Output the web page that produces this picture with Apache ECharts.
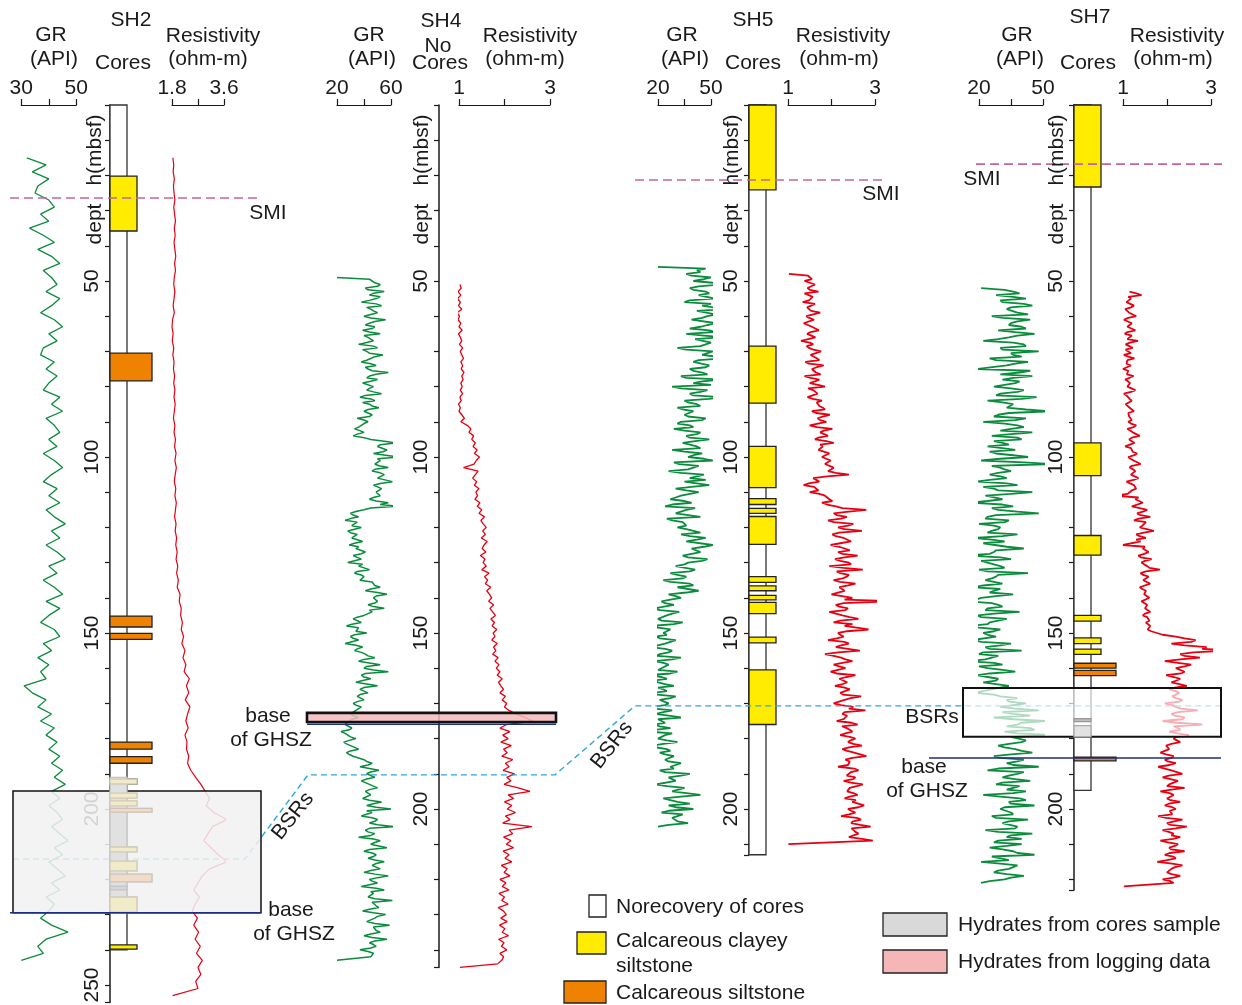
<!DOCTYPE html>
<html><head><meta charset="utf-8">
<script src="https://cdn.jsdelivr.net/npm/echarts@6/dist/echarts.min.js"></script>
<style>html,body{margin:0;padding:0;background:#fff}#c{width:1242px;height:1005px}</style>
</head><body><div id="c"></div><script>
// ================= DATA =================
// scale-bar tick labels (min, mid, max)
const sh2GrTicks = ['30','40','50'];
const sh2ResTicks = ['1.8','2.7','3.6'];
const sh4GrTicks = ['20','40','60'];
const sh4ResTicks = ['1','2','3'];
const sh5GrTicks = ['20','35','50'];
const sh5ResTicks = ['1','2','3'];
const sh7GrTicks = ['20','35','50'];
const sh7ResTicks = ['1','2','3'];

// logs: first sample depth (mbsf), sample step (m), values; "Half" arrays = readings midway between samples
const sh2GrStart = 15, sh2GrStep = 2;
const sh2Gr = [32,39,34,40,36,35,40,42,37,40,33,38,42,36,41,44,38,41,43,39,
 44,41,37,42,45,40,43,38,37,42,39,43,40,38,44,41,45,39,42,44,
 40,43,38,42,45,41,38,43,40,44,39,42,46,41,44,39,43,46,40,43,
 38,42,45,39,44,40,37,42,44,38,41,36,40,37,39,31,34,39,36,41,
 37,42,39,43,40,44,41,45,42,46,41,44,40,43,45,41,44,47,42,45,
 40,43,46,41,44,39,42,40,37,41,47,39,36,38,30];
const sh2ResStart = 15, sh2ResStep = 2;
const sh2Res = [1.83,1.86,1.84,1.88,1.85,1.87,1.90,1.86,1.89,1.92,1.88,1.91,1.87,1.90,1.93,1.89,1.92,1.88,1.86,1.90,
 1.87,1.84,1.88,1.82,1.80,1.84,1.81,1.86,1.83,1.87,1.85,1.89,1.86,1.90,1.87,1.91,1.88,1.85,1.90,1.87,
 1.92,1.89,1.94,1.90,1.95,1.91,1.88,1.93,1.90,1.95,1.92,1.89,1.94,1.91,1.96,1.93,1.98,1.94,2.00,1.96,
 2.02,1.98,2.08,2.05,2.12,2.10,2.16,2.12,2.20,2.14,2.25,2.18,2.28,2.22,2.40,2.30,2.38,2.26,2.42,2.34,
 2.28,2.36,2.25,2.32,2.30,2.38,2.34,2.45,2.62,2.80,2.95,3.10,2.98,3.25,3.70,3.20,3.05,2.90,3.15,3.40,
 3.70,3.10,2.85,2.70,2.55,2.75,2.60,2.50,2.68,2.55,2.72,2.60,2.78,2.65,2.85,2.70,2.80,2.62,2.70,1.82];

const sh4GrStart = 49, sh4GrStep = 1;
const sh4Gr = [20,
 46,52,41,55,44,49,38,53,45,50,40,56,44,
 48,39,52,43,47,36,50,42,54,45,38,49,43,
 58,44,50,39,47,42,53,37,48,44,51,40,46,35,43,
 38,33,40,32,45,
 64,50,57,47,65,52,48,58,46,55,50,61,47,53,49,
 52,44,58,65,40,
 30,36,26,33,38,28,35,31,39,29,
 34,41,32,38,28,36,44,33,40,37,
 45,52,41,57,47,50,43,55,46,40,
 32,38,27,35,42,30,36,26,39,33,
 41,48,36,52,40,58,38,45,34,50,37,43,
 35,40,32,38,34,30,36,29,
 26,31,23,28,34,25,30,36,27,32,
 40,46,37,51,42,48,38,44,50,41,
 45,39,53,42,60,46,38,50,44,63,41,48,36,52,45,57,40,49,43,55,
 46,52,40,58,44,50,38,55,47,43,61,45,51,39,56,48,42,59,46,52,40,57,44,49,37,47,
 45,20];
const sh4GrHalf = [44,48,50,43,47,52,44,49,42,47,51,45,48,
 41,46,44,40,45,42,47,39,44,48,42,45,41,
 46,49,42,45,40,44,47,41,45,39,46,43,41,44,40,
 40,36,37,35,40,
 55,52,49,54,56,50,53,51,48,52,55,50,52,48,51,
 50,47,49,52,45,
 34,32,30,35,31,33,30,34,32,33,
 36,34,38,35,33,39,37,35,38,41,
 46,48,45,50,49,46,48,47,44,43,
 35,33,31,36,34,33,32,31,34,35,
 38,43,40,44,42,47,41,40,39,42,40,38,
 37,36,35,34,36,33,32,31,
 28,27,29,26,30,29,27,31,30,29,
 36,42,43,44,45,43,42,41,45,44,
 43,46,44,47,49,42,45,46,48,50,44,43,45,47,48,46,44,46,47,48,
 49,47,45,48,50,46,44,49,45,47,48,46,49,44,47,50,45,48,47,49,45,46,48,47,45,43,46,
 44];
const sh4ResStart = 51, sh4ResStep = 1;
const sh4Res = [1.02,1.05,0.98,1.04,0.97,1.03,0.99,1.06,0.96,1.01,
 0.98,1.04,1.00,1.07,0.99,1.03,1.06,1.01,1.08,1.03,
 1.06,1.10,1.04,1.08,1.05,1.11,1.06,1.09,1.04,1.07,
 1.03,1.08,1.02,1.05,0.99,1.03,1.00,1.06,1.12,1.04,
 1.18,1.26,1.22,1.32,1.28,1.36,1.31,1.40,1.34,1.45,
 1.38,1.33,1.10,1.42,1.36,1.30,1.39,1.34,1.44,1.37,
 1.41,1.35,1.46,1.40,1.50,1.44,1.56,1.48,1.53,1.60,
 1.52,1.58,1.49,1.62,1.55,1.51,1.59,1.47,1.57,1.53,
 1.60,1.50,1.66,1.56,1.63,1.58,1.70,1.61,1.67,1.72,
 1.65,1.76,1.68,1.74,1.80,1.70,1.78,1.73,1.83,1.75,
 1.79,1.72,1.84,1.76,1.81,1.74,1.86,1.79,1.88,1.82,
 1.90,1.84,1.95,1.87,1.92,1.98,1.90,2.02,1.95,2.05,
 2.00,2.10,2.25,2.45,2.62,2.05,1.90,2.12,1.96,2.08,
 1.92,2.15,1.98,2.06,1.94,2.18,2.02,2.10,1.97,2.22,
 2.05,2.14,1.99,2.30,2.56,2.08,2.20,2.00,2.16,2.06,
 2.24,2.02,2.12,1.96,2.60,2.10,2.18,1.98,2.14,2.04,
 2.20,1.97,2.10,2.01,2.16,1.93,2.06,1.99,2.12,1.90,
 2.03,1.95,2.10,1.88,2.00,1.94,2.08,1.86,1.98,2.04,
 1.92,2.06,1.89,2.01,1.95,2.09,1.87,1.99,1.93,2.05,
 1.90,1.98,1.94,1.85,1.02];

const sh5GrStart = 46, sh5GrStep = 1;
const sh5Gr = [20,
 42,36,50,40,55,38,47,43,52,35,45,57,41,48,
 39,53,44,49,36,56,42,47,31,51,45,57,40,49,38,
 45,33,55,40,28,48,38,57,35,42,
 31,40,35,47,33,38,29,44,36,49,
 34,42,28,45,37,51,32,40,26,46,38,35,49,30,43,
 33,27,39,24,36,30,44,28,35,31,
 40,33,47,36,51,39,44,34,48,37,
 30,41,27,36,23,38,31,43,26,33,
 22,29,18,32,25,20,34,16,27,23,
 19,30,24,15,28,21,33,18,26,22,31,14,25,20,29,
 23,17,30,21,26,15,28,19,33,22,18,27,14,24,20,31,17,25,21,29,
 24,33,27,21,38,26,30,19,35,28,44,23,31,26,40,22,33,29,37,20];
const sh5GrHalf = [47,44,39,46,51,43,40,49,44,38,50,46,42,53,
 45,40,48,38,52,46,41,50,44,36,48,53,43,39,47,
 40,48,36,45,50,33,44,40,49,37,
 44,34,41,37,45,31,40,35,42,38,
 41,33,44,35,40,46,29,43,37,33,42,47,34,39,36,
 38,30,35,28,41,33,37,25,34,36,
 36,44,38,42,35,46,40,43,37,45,
 35,29,38,31,34,27,40,32,36,30,
 27,24,30,21,28,26,22,29,20,25,
 25,21,27,20,24,26,19,28,23,25,20,27,22,18,24,
 20,25,19,27,22,24,18,23,26,20,24,21,19,28,22,25,23,19,27,24,
 30,26,32,29,24,33,27,31,25,36,29,33,27,38,30,26,34,28,31,26];
const sh5ResStart = 48, sh5ResStep = 1;
const sh5Res = [1.02,
 1.50,1.38,1.62,1.45,1.70,1.40,1.58,1.34,1.66,1.47,1.74,1.42,
 1.60,1.36,1.55,1.71,1.44,1.63,1.30,1.58,1.48,1.76,
 1.52,1.67,1.40,1.82,1.55,1.64,1.38,1.72,1.50,1.85,1.58,1.68,1.45,1.78,1.62,
 1.80,1.55,1.96,1.68,1.88,1.50,2.02,1.74,1.92,1.62,2.05,1.80,1.70,1.95,1.78,
 1.98,1.85,2.05,1.92,2.40,
 1.58,1.72,1.36,1.65,1.50,
 1.85,1.95,1.78,2.10,2.80,
 2.05,2.35,1.92,2.50,2.15,2.70,2.02,2.28,2.45,1.98,
 2.30,2.15,2.60,2.08,2.40,1.95,2.72,2.20,2.35,2.05,2.55,2.18,2.30,2.00,2.48,
 3.46,
 2.10,2.38,1.95,2.25,2.62,2.05,2.30,2.85,2.15,
 2.28,1.92,2.40,2.10,2.65,1.85,2.22,2.48,2.05,2.32,1.98,2.55,2.18,2.36,2.08,
 2.42,2.20,2.68,2.30,2.05,2.50,2.78,2.25,2.40,2.12,2.60,2.35,2.48,2.20,2.55,
 2.38,2.70,2.25,2.52,2.80,2.32,2.46,2.15,2.62,2.40,2.55,2.28,2.72,2.42,2.36,
 2.60,2.30,2.48,2.75,2.38,2.55,2.22,2.68,2.45,2.90,2.50,2.62,2.40,2.95,
 1.01];
const sh5ResHalf = [1.46,1.55,1.42,1.60,1.50,1.38,1.57,1.48,1.62,1.44,1.53,1.58,
 1.49,1.62,1.40,1.56,1.52,1.45,1.65,1.50,1.43,1.58,
 1.64,1.55,1.72,1.48,1.66,1.58,1.75,1.52,1.62,1.69,1.46,1.63,1.71,1.57,1.66,
 1.72,1.85,1.65,1.80,1.74,1.90,1.66,1.82,1.76,1.70,1.88,1.74,1.83,1.68,1.86,
 1.88,1.95,1.82,2.00,2.10,
 1.90,1.55,1.48,1.60,1.70,
 1.72,1.88,2.02,1.90,2.25,
 2.40,2.12,2.22,2.05,2.38,2.30,2.18,2.10,2.32,2.20,
 2.18,2.42,2.25,2.30,2.20,2.45,2.28,2.12,2.40,2.26,2.20,2.38,2.16,2.32,2.24,
 2.30,
 2.28,2.18,2.32,2.10,2.42,2.20,2.48,2.26,2.36,
 2.20,2.12,2.30,2.22,2.38,2.15,2.05,2.32,2.25,2.18,2.28,2.12,2.34,2.22,2.26,
 2.30,2.38,2.26,2.44,2.32,2.22,2.40,2.30,2.36,2.28,2.46,2.24,2.38,2.32,2.42,
 2.44,2.50,2.40,2.36,2.55,2.48,2.42,2.38,2.52,2.45,2.35,2.50,2.44,2.58,2.46,
 2.50,2.42,2.56,2.48,2.62,2.45,2.40,2.58,2.50,2.66,2.46,2.55,2.60,2.70,
 2.92];

const sh7GrStart = 52, sh7GrStep = 1;
const sh7Gr = [21,
 36,28,42,31,45,33,38,26,44,35,40,29,46,
 34,22,41,30,48,36,25,43,33,19,39,45,31,37,27,
 41,30,47,24,36,33,54,29,42,22,38,35,45,26,40,
 31,24,37,28,43,21,54,30,35,25,
 33,19,38,27,45,23,31,16,36,29,48,24,34,20,30,
 26,38,18,32,22,41,27,15,35,24,30,20,43,28,23,
 31,17,27,36,21,13,29,24,39,19,33,25,15,30,22,
 28,17,35,23,40,20,26,14,31,24,37,19,29,22,34,26,18,30,
 33,42,30,48,36,27,51,38,44,32,56,35,40,29,
 37,45,27,41,33,48,24,38,31,44,28,36,42,22,39,34,46,30,
 35,26,43,31,38,23,45,33,29,40,25,36,46,30,21,38,34,27,41,32,
 21];
const sh7GrHalf = [32,39,36,30,41,35,33,43,31,38,34,42,37,
 38,29,36,42,31,35,40,28,37,33,44,30,36,39,32,
 35,38,28,40,31,36,42,34,27,37,32,41,30,35,38,
 27,34,31,25,36,30,41,26,32,29,
 30,25,33,22,29,35,27,24,31,26,38,28,23,32,27,
 29,24,31,26,22,33,28,25,30,21,27,32,24,29,26,
 27,22,30,25,28,19,26,31,23,27,21,29,24,20,27,
 24,28,21,30,25,22,29,23,27,20,31,25,24,28,22,30,26,27,
 38,34,42,37,31,44,36,40,33,46,38,35,42,34,
 32,40,35,30,38,36,29,41,34,37,31,39,33,36,30,42,35,32,
 30,36,28,34,31,37,29,35,40,27,33,31,38,26,34,30,36,29,33,35,25];
const sh7ResStart = 53, sh7ResStep = 1;
const sh7Res = [1.15,
 1.42,1.18,1.08,1.25,1.05,1.14,1.30,1.02,1.20,1.10,1.28,1.04,
 1.16,1.34,1.06,1.22,1.12,1.02,1.26,1.09,1.18,1.00,1.14,1.24,1.05,1.16,1.10,
 1.28,1.02,1.12,1.20,1.06,1.15,1.25,1.08,1.18,1.12,
 1.30,1.10,1.22,1.38,1.14,1.26,1.05,1.20,1.32,1.12,1.24,1.40,1.15,1.28,1.18,1.35,1.08,1.25,1.30,1.16,
 0.82,1.28,1.45,1.20,1.55,1.32,1.62,1.25,1.48,1.38,1.70,1.30,1.52,1.40,1.00,1.45,1.58,1.35,1.65,1.42,
 1.55,1.84,1.40,1.58,1.46,1.62,1.38,1.52,1.48,1.60,1.42,1.55,1.50,1.62,1.45,
 1.58,1.52,1.62,1.56,1.68,
 2.20,2.65,2.10,2.90,3.47,2.30,2.75,1.95,2.55,2.20,
 2.40,1.98,2.30,2.10,2.45,2.05,2.28,2.12,
 2.35,1.95,2.20,2.70,2.10,2.40,1.90,2.80,2.25,2.05,2.50,2.15,2.30,1.98,
 2.05,1.85,2.15,1.95,2.20,1.80,2.10,2.35,1.90,2.25,2.05,2.40,1.85,2.15,2.00,2.30,1.95,2.20,
 2.10,1.80,2.35,2.00,2.45,1.90,2.15,2.30,1.85,2.25,2.05,2.40,1.95,2.20,1.78,2.35,2.10,2.00,2.30,1.90,2.15,
 1.02];
const sh7ResHalf = [1.30,1.12,1.20,1.10,1.18,1.08,1.16,1.12,1.06,1.18,1.14,1.10,
 1.20,1.10,1.16,1.14,1.06,1.18,1.12,1.10,1.08,1.16,1.12,1.09,1.15,1.11,1.18,
 1.12,1.18,1.08,1.15,1.13,1.10,1.17,1.12,1.14,1.20,
 1.18,1.24,1.16,1.26,1.20,1.14,1.28,1.18,1.22,1.26,1.17,1.25,1.20,1.23,1.30,1.19,1.24,1.16,1.22,1.20,
 1.10,1.35,1.32,1.42,1.38,1.45,1.40,1.36,1.52,1.44,1.40,1.48,1.38,1.30,1.36,1.50,1.42,1.48,1.40,1.50,
 1.48,1.60,1.52,1.46,1.55,1.50,1.58,1.44,1.54,1.52,1.56,1.48,1.57,1.53,1.50,
 1.55,1.60,1.57,1.62,1.64,
 1.90,2.40,2.55,2.40,2.80,2.60,2.40,2.30,2.25,2.40,
 2.20,2.32,2.15,2.22,2.28,2.18,2.20,2.25,
 2.20,2.28,2.12,2.32,2.25,2.18,2.35,2.22,2.15,2.30,2.24,2.20,2.12,2.10,
 2.00,2.05,1.98,2.10,2.02,2.06,1.95,2.12,2.04,2.08,2.15,2.00,2.10,2.06,2.14,2.08,2.04,2.12,
 2.06,2.12,1.98,2.16,2.08,2.20,2.04,2.10,2.14,2.02,2.18,2.10,2.06,2.14,2.00,2.12,2.18,2.05,2.10,2.15,2.08,2.12];

// cores: [top depth, bottom depth, lithology]  Y = calcareous clayey siltstone, O = calcareous siltstone, H/h = hydrate sample
const sh2Cores = [[20.2,35.8,'Y'],[70.5,78.4,'O'],[145.2,148.3,'O'],[150.1,151.8,'O'],[181,183,'O'],[185.1,187,'O'],
 [191.5,192.9,'Y'],[195.5,196.9,'Y'],[197.7,199.1,'Y'],[199.8,200.9,'O'],[210.8,212.2,'Y'],[214.8,217.6,'Y'],
 [218.5,220.7,'O'],[221.9,223,'H'],[225,229.3,'Y'],[238.6,239.8,'Y']];
const sh5Cores = [[0,24.1,'Y'],[68.5,84.7,'Y'],[97,108.7,'Y'],[111.8,113.5,'Y'],[114.6,116,'Y'],[116.9,124.8,'Y'],
 [134,135.6,'Y'],[136.6,138,'Y'],[139.3,140.6,'Y'],[141.3,144.5,'Y'],[151.2,152.8,'Y'],[160.5,176,'Y']];
const sh7Cores = [[0,23.3,'Y'],[96,105.3,'Y'],[122.3,127.9,'Y'],[145,146.6,'Y'],[151.4,153,'Y'],[154.6,156.1,'Y'],
 [158.6,160,'O'],[160.6,162.1,'O'],[185.3,186.3,'O']];
const sh2HydrateZone = [191, 229.5];
const sh7HydrateCores = [[174.3,175.2,'H'],[176.3,179.5,'h']];
const coreColumnEnds = [240, 0, 213, 194.7];   // SH2, SH4 (no cores), SH5, SH7
const depthAxisEnds = [255, 245, 213, 223];

// interpreted horizons (depth, mbsf)
const smiDepths = [26.4, 21.3, 16.8];            // SH2, SH5, SH7
const ghszBaseDepths = [229.5, 175.9, 185.5];    // SH2, SH4, SH7
const bsrDepths = [214.2, 190.3, 170.7];         // SH2, SH4, SH5-SH7
const bsrZoneSH2 = [194.9, 229.5];
const bsrZoneSH7 = [165.6, 179.5];
const hydrateLogSH4 = [172.7, 175.3];

// ================= STYLE / LAYOUT =================
const PX = 3.52, TOP = 105;
const FONT = '"Liberation Sans", Arial, Helvetica, sans-serif';
const INK = '#1a1a1a';
const GREEN = '#0b8c3c', RED = '#e50012';
const YELLOW = '#ffec00', ORANGE = '#ef8200', PINK = '#f4b6b6', GRAY = '#d9d9d9';
const CORE_STYLE = {
  W: {w: 17, fill: '#ffffff', stroke: '#333'},
  Y: {w: 27, fill: YELLOW, stroke: '#222'},
  O: {w: 42, fill: ORANGE, stroke: '#222'},
  H: {w: 17, fill: '#bdbdbd', stroke: '#999'},
  h: {w: 17, fill: '#e2e2e2', stroke: '#aaa'}
};
const FADED_STYLE = {
  W: {w: 17, fill: '#e1e1e1', stroke: '#c4c4c4'},
  Y: {w: 27, fill: '#f1ebc9', stroke: '#cfcbb8'},
  O: {w: 42, fill: '#efdccb', stroke: '#cdc3b8'},
  H: {w: 17, fill: '#d6d6d6', stroke: '#c4c4c4'}
};

const tracks = [
  {ticks: sh2GrTicks, left: 21.3, width: 55, start: sh2GrStart, step: sh2GrStep, values: sh2Gr, color: GREEN, lw: 1.3},
  {ticks: sh2ResTicks, left: 172, width: 52, start: sh2ResStart, step: sh2ResStep, values: sh2Res, color: RED, lw: 1.2},
  {ticks: sh4GrTicks, left: 337, width: 54, start: sh4GrStart, step: sh4GrStep, values: sh4Gr, half: sh4GrHalf, color: GREEN, lw: 1.5},
  {ticks: sh4ResTicks, left: 459, width: 91, start: sh4ResStart, step: sh4ResStep, values: sh4Res, color: RED, lw: 1.3},
  {ticks: sh5GrTicks, left: 658, width: 53, start: sh5GrStart, step: sh5GrStep, values: sh5Gr, half: sh5GrHalf, color: GREEN, lw: 1.8},
  {ticks: sh5ResTicks, left: 788, width: 87, start: sh5ResStart, step: sh5ResStep, values: sh5Res, half: sh5ResHalf, color: RED, lw: 1.8},
  {ticks: sh7GrTicks, left: 979, width: 64, start: sh7GrStart, step: sh7GrStep, values: sh7Gr, half: sh7GrHalf, color: GREEN, lw: 1.8},
  {ticks: sh7ResTicks, left: 1123, width: 88, start: sh7ResStart, step: sh7ResStep, values: sh7Res, half: sh7ResHalf, color: RED, lw: 1.8}
];
const coreWells = [
  {left: 110, cores: sh2Cores},
  {left: 439, cores: []},
  {left: 749, cores: sh5Cores},
  {left: 1074, cores: sh7Cores}
];

const grid = [], xAxis = [], yAxis = [], series = [];
const txtStyle = (extra) => Object.assign({fontSize: 21, fontFamily: FONT, fill: INK}, extra || {});
const mkGrid = (g) => Object.assign({outerBoundsMode: 'none', containLabel: false}, g);

// ---- log tracks ----
tracks.forEach(t => {
  const gi = grid.length;
  grid.push(mkGrid({left: t.left, top: TOP, width: t.width, height: 250 * PX}));
  const lo = parseFloat(t.ticks[0]), hi = parseFloat(t.ticks[t.ticks.length - 1]);
  xAxis.push({type: 'category', gridIndex: gi, position: 'top', data: t.ticks, boundaryGap: false,
    axisLine: {show: true, lineStyle: {color: INK, width: 1.2}},
    axisTick: {show: true, interval: 0, length: 6, lineStyle: {color: INK, width: 1.2}},
    axisLabel: {interval: (i) => i === 0 || i === t.ticks.length - 1, margin: 6, fontSize: 21, fontFamily: FONT, color: INK},
    splitLine: {show: false}});
  const vx = xAxis.length;
  xAxis.push({type: 'value', gridIndex: gi, position: 'bottom', min: lo, max: hi, show: false});
  const yi = yAxis.length;
  yAxis.push({type: 'value', gridIndex: gi, min: 0, max: 250, inverse: true, show: false});
  const pts = t.values.map((v, i) => [v, t.start + i * t.step]);
  if (t.half) t.half.forEach((v, i) => pts.push([v, t.start + t.step / 2 + i * t.step]));
  pts.sort((a, b) => a[1] - b[1]);
  series.push({type: 'line', xAxisIndex: vx, yAxisIndex: yi, silent: true, symbol: 'none', clip: false, z: 2,
    lineStyle: {color: t.color, width: t.lw}, data: pts});
});

// ---- core columns + depth axes ----
const coreAxes = [];
const rectItem = (p, api, st) => {
  const y0 = api.coord([0, api.value(1)])[1], y1 = api.coord([0, api.value(2)])[1];
  return {type: 'rect', shape: {x: p.coordSys.x, y: y0, width: st.w, height: y1 - y0},
    style: {fill: st.fill, stroke: st.stroke, lineWidth: 1.3}};
};
coreWells.forEach((w, k) => {
  const end = depthAxisEnds[k];
  const gi = grid.length;
  grid.push(mkGrid({left: w.left, top: TOP, width: 42, height: end * PX}));
  const xi = xAxis.length;
  xAxis.push({type: 'value', gridIndex: gi, min: 0, max: 42, show: false});
  const yi = yAxis.length;
  yAxis.push({type: 'value', gridIndex: gi, position: 'left', min: 0, max: end, interval: 10, inverse: true,
    axisLine: {show: true, lineStyle: {color: INK, width: 1.5}},
    axisTick: {show: true, length: 5, lineStyle: {color: INK, width: 1.2}},
    axisLabel: {rotate: 90, margin: 7, fontSize: 21, fontFamily: FONT, color: INK,
      formatter: (v) => (v > 0 && v % 50 === 0) ? String(v) : ''},
    splitLine: {show: false}});
  coreAxes.push({xi, yi});
  const items = [];
  if (coreColumnEnds[k] > 0) items.push([0, coreColumnEnds[k], 'W']);
  w.cores.forEach(c => items.push(c));
  if (!items.length) return;
  series.push({type: 'custom', xAxisIndex: xi, yAxisIndex: yi, silent: true, z: 3,
    data: items.map(c => [0, c[0], c[1]]), encode: {x: 0, y: [1, 2]},
    renderItem: (p, api) => rectItem(p, api, CORE_STYLE[items[p.dataIndex][2]])});
});
const sh2Faded = [[sh2HydrateZone[0], sh2HydrateZone[1], 'W']].concat(
  sh2Cores.filter(c => c[0] >= sh2HydrateZone[0] && c[1] <= sh2HydrateZone[1]));
series.push({type: 'custom', xAxisIndex: coreAxes[0].xi, yAxisIndex: coreAxes[0].yi, silent: true, z: 5,
  data: sh2Faded.map(c => [0, c[0], c[1]]), encode: {x: 0, y: [1, 2]},
  renderItem: (p, api) => rectItem(p, api, FADED_STYLE[sh2Faded[p.dataIndex][2]])});
series.push({type: 'custom', xAxisIndex: coreAxes[3].xi, yAxisIndex: coreAxes[3].yi, silent: true, z: 5,
  data: sh7HydrateCores.map(c => [0, c[0], c[1]]), encode: {x: 0, y: [1, 2]},
  renderItem: (p, api) => rectItem(p, api, CORE_STYLE[sh7HydrateCores[p.dataIndex][2]])});

// ---- overlay grid for horizons (x in page pixels, y in depth) ----
const og = grid.length;
grid.push(mkGrid({left: 0, top: TOP, width: 1242, height: 250 * PX}));
const ox = xAxis.length; xAxis.push({type: 'value', gridIndex: og, min: 0, max: 1242, show: false});
const oy = yAxis.length; yAxis.push({type: 'value', gridIndex: og, min: 0, max: 250, inverse: true, show: false});
const ovl = (o) => Object.assign({xAxisIndex: ox, yAxisIndex: oy, silent: true, clip: false}, o);

const SMI_X = [[10, 257], [635, 882], [976, 1222]];
const BASE_X = [[10, 261], [307, 556], [929, 1221]];
const BSR_X = [13, 245, 308, 555, 635, 1221];

SMI_X.forEach((xs, k) => series.push(ovl({type: 'line', symbol: 'none', z: 6,
  lineStyle: {color: '#c5649c', width: 1.6, type: [9, 5]},
  data: [[xs[0], smiDepths[k]], [xs[1], smiDepths[k]]]})));
series.push(ovl({type: 'line', symbol: 'none', z: 3,
  lineStyle: {color: '#2ba6df', width: 1.4, type: [6, 4]},
  data: [[BSR_X[0], bsrDepths[0]], [BSR_X[1], bsrDepths[0]], [BSR_X[2], bsrDepths[1]], [BSR_X[3], bsrDepths[1]],
         [BSR_X[4], bsrDepths[2]], [BSR_X[5], bsrDepths[2]]]}));
BASE_X.forEach((xs, k) => series.push(ovl({type: 'line', symbol: 'none', z: 6,
  lineStyle: {color: '#1d2d82', width: 1.5},
  data: [[xs[0], ghszBaseDepths[k]], [xs[1], ghszBaseDepths[k]]]})));

const boxes = [
  {x: [13, 261], d: bsrZoneSH2, fill: 'rgba(241,241,241,0.86)', lw: 1.5},
  {x: [307, 556], d: hydrateLogSH4, fill: 'rgba(245,186,186,0.85)', lw: 2.6},
  {x: [963, 1221], d: bsrZoneSH7, fill: 'rgba(255,255,255,0.68)', lw: 2}
];
series.push(ovl({type: 'custom', z: 4, data: boxes.map(b => [b.x[0], b.d[0], b.x[1], b.d[1]]),
  encode: {x: [0, 2], y: [1, 3]},
  renderItem: (p, api) => {
    const b = boxes[p.dataIndex];
    const a = api.coord([api.value(0), api.value(1)]), c = api.coord([api.value(2), api.value(3)]);
    return {type: 'rect', shape: {x: a[0], y: a[1], width: c[0] - a[0], height: c[1] - a[1]},
      style: {fill: b.fill, stroke: '#111', lineWidth: b.lw}};
  }}));

// ---- text ----
const labels = [
  ['SH2', 131, 20], ['GR', 51, 35], ['(API)', 54, 59], ['Cores', 123, 63], ['Resistivity', 213, 36], ['(ohm-m)', 208, 59],
  ['SH4', 441, 21], ['No', 438, 46], ['Cores', 440, 63], ['GR', 369, 35], ['(API)', 372, 59], ['Resistivity', 530, 36], ['(ohm-m)', 525, 59],
  ['SH5', 753, 20], ['GR', 682, 35], ['(API)', 685, 59], ['Cores', 753, 63], ['Resistivity', 843, 36], ['(ohm-m)', 839, 59],
  ['SH7', 1090, 17], ['GR', 1017, 35], ['(API)', 1020, 59], ['Cores', 1088, 63], ['Resistivity', 1177, 36], ['(ohm-m)', 1173, 59],
  ['SMI', 268, 213], ['SMI', 881, 194], ['SMI', 982, 179],
  ['base', 268, 716], ['of GHSZ', 271, 740],
  ['base', 291, 910], ['of GHSZ', 294, 934],
  ['BSRs', 932, 717], ['base', 924, 767], ['of GHSZ', 927, 791]
];
const graphic = [];
labels.forEach(l => graphic.push({type: 'text', x: l[1], y: l[2], z: 100,
  style: txtStyle({text: l[0], align: 'center', verticalAlign: 'middle', textAlign: 'center', textVerticalAlign: 'middle'})}));
coreWells.forEach((w, k) => {
  const xc = w.left - (k === 0 ? 15 : 17);
  [['dept', 224], ['h(mbsf)', 150]].forEach(s => graphic.push({type: 'text', x: xc, y: s[1], rotation: Math.PI / 2, z: 100,
    style: txtStyle({text: s[0], align: 'center', verticalAlign: 'middle', textAlign: 'center', textVerticalAlign: 'middle'})}));
});
[['BSRs', 293, 816], ['BSRs', 612, 745]].forEach(s => graphic.push({type: 'text', x: s[1], y: s[2], rotation: 0.9, z: 100,
  style: txtStyle({text: s[0], align: 'center', verticalAlign: 'middle', textAlign: 'center', textVerticalAlign: 'middle'})}));
const legendBoxes = [[589, 895, 17, 22, '#ffffff'], [577, 932, 29, 22, YELLOW], [564, 981, 42, 22, ORANGE],
                     [883, 913, 64, 23, GRAY], [883, 950, 64, 23, PINK]];
legendBoxes.forEach(b => graphic.push({type: 'rect', z: 100, shape: {x: b[0], y: b[1], width: b[2], height: b[3]},
  style: {fill: b[4], stroke: '#222', lineWidth: 1.3}}));
[['Norecovery of cores', 616, 907], ['Calcareous clayey', 616, 941], ['siltstone', 616, 966],
 ['Calcareous siltstone', 616, 993], ['Hydrates from cores sample', 958, 925], ['Hydrates from logging data', 958, 962]]
 .forEach(l => graphic.push({type: 'text', x: l[1], y: l[2], z: 100,
   style: txtStyle({text: l[0], align: 'left', verticalAlign: 'middle', textAlign: 'left', textVerticalAlign: 'middle'})}));

const chart = echarts.init(document.getElementById('c'), null, {renderer: 'canvas'});
chart.setOption({animation: false, backgroundColor: '#fff', grid, xAxis, yAxis, series, graphic});
</script></body></html>
